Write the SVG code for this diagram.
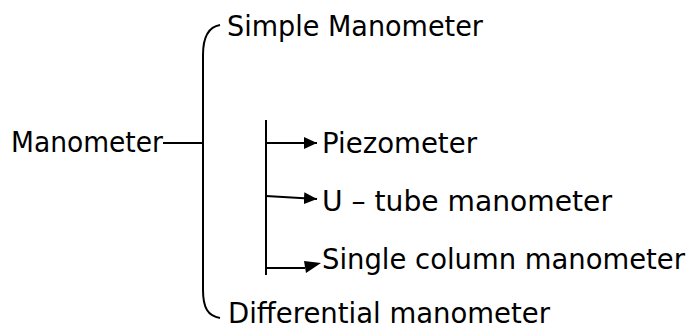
<svg xmlns="http://www.w3.org/2000/svg" width="693" height="329" viewBox="0 0 693 329">
<style>
text{font-family:"DejaVu Sans",Verdana,sans-serif;font-size:29px;fill:#000}
.ln{stroke:#000;stroke-width:2;fill:none}
.ah{fill:#000}
</style>
<defs>
<marker id="arr" markerWidth="14" markerHeight="12" refX="13" refY="6" orient="auto" markerUnits="userSpaceOnUse">
<path d="M0,0 L13,6 L0,12 Z" class="ah"/>
</marker>
</defs>
<rect width="693" height="329" fill="#fff"/>
<g id="connectors">
<path class="ln" d="M163,143 H202"/>
<path class="ln" d="M220,25 C208,27 203,38 203,55 V290 C203,308 208,316 220,318"/>
<path class="ln" d="M266,120 V275"/>
<path class="ln" d="M266,143 H317" marker-end="url(#arr)"/>
<path class="ln" d="M266,196 L317,199" marker-end="url(#arr)"/>
<path class="ln" d="M266,268 H305"/>
<path class="ah" d="M304,261 L321,263 L306,273 Z"/>
</g>
<g id="n-manometer"><text x="11" y="152" textLength="152" lengthAdjust="spacingAndGlyphs">Manometer</text></g>
<g id="n-simple"><text x="227" y="36" textLength="256" lengthAdjust="spacingAndGlyphs">Simple Manometer</text></g>
<g id="n-piezo"><text x="322" y="153" textLength="155" lengthAdjust="spacingAndGlyphs">Piezometer</text></g>
<g id="n-utube"><text x="322" y="211" textLength="290" lengthAdjust="spacingAndGlyphs">U – tube manometer</text></g>
<g id="n-single"><text x="322" y="269" textLength="363" lengthAdjust="spacingAndGlyphs">Single column manometer</text></g>
<g id="n-diff"><text x="228" y="323" textLength="322" lengthAdjust="spacingAndGlyphs">Differential manometer</text></g>
</svg>
